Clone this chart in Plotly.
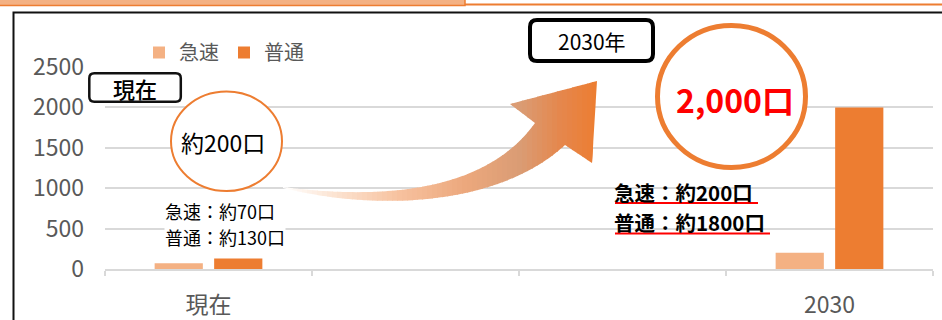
import numpy as np
import plotly.graph_objects as go

# ---------------- data ----------------
categories = ["現在", "2030"]
axis_categories = ["現在", " ", "  ", "2030"]
series_names = ["急速", "普通"]
rapid_values = [70, 200]
normal_values = [130, 2000]
y_ticks = [0, 500, 1000, 1500, 2000, 2500]
colors = ["#F4B183", "#ED7D31"]

label_now = "現在"
label_2030 = "2030年"
now_total = "約200口"
now_lines = ["急速：約70口", "普通：約130口"]
future_total = "2,000口"
future_lines = ["急速：約200口", "普通：約1800口"]

# ---------------- geometry helpers (pixel -> paper) ----------------
W, H = 942, 320
ML, MR, MT, MB = 105, 9, 67, 51
PW = W - ML - MR
PH = H - MT - MB
FONT = "Noto Sans CJK JP"


def px(x):
    return (x - ML) / PW


def py(y):
    return (H - MB - y) / PH


def rrect_path(x0, y0, x1, y1, r):
    return (f"M{px(x0+r)},{py(y0)} L{px(x1-r)},{py(y0)} Q{px(x1)},{py(y0)} {px(x1)},{py(y0+r)} "
            f"L{px(x1)},{py(y1-r)} Q{px(x1)},{py(y1)} {px(x1-r)},{py(y1)} "
            f"L{px(x0+r)},{py(y1)} Q{px(x0)},{py(y1)} {px(x0)},{py(y1-r)} "
            f"L{px(x0)},{py(y0+r)} Q{px(x0)},{py(y0)} {px(x0+r)},{py(y0)} Z")


def bez(p0, p1, p2, p3, n=50):
    t = np.linspace(0, 1, n)[:, None]
    p0, p1, p2, p3 = map(np.array, (p0, p1, p2, p3))
    return (1 - t) ** 3 * p0 + 3 * (1 - t) ** 2 * t * p1 + 3 * (1 - t) * t ** 2 * p2 + t ** 3 * p3


def clip_edge(pts, inside, intersect):
    out = []
    n = len(pts)
    for i in range(n):
        cur, prev = pts[i], pts[i - 1]
        if inside(cur):
            if not inside(prev):
                out.append(intersect(prev, cur))
            out.append(cur)
        elif inside(prev):
            out.append(intersect(prev, cur))
    return out


def ix(xc):
    def f(a, b):
        t = (xc - a[0]) / (b[0] - a[0])
        return (xc, a[1] + t * (b[1] - a[1]))
    return f


def clip_slab(poly, xmin, xmax):
    pts = clip_edge(poly, lambda p: p[0] >= xmin, ix(xmin))
    if not pts:
        return pts
    return clip_edge(pts, lambda p: p[0] <= xmax, ix(xmax))


def lerp_color(x, stops):
    if x <= stops[0][0]:
        c = stops[0][1]
    elif x >= stops[-1][0]:
        c = stops[-1][1]
    else:
        for (xa, ca), (xb, cb) in zip(stops[:-1], stops[1:]):
            if xa <= x <= xb:
                t = (x - xa) / (xb - xa)
                c = tuple(ca[k] + t * (cb[k] - ca[k]) for k in range(3))
                break
    return "rgb(%d,%d,%d)" % tuple(int(round(v)) for v in c)


# ---------------- figure ----------------
fig = go.Figure()
for name, vals, col in zip(series_names, [rapid_values, normal_values], colors):
    fig.add_bar(name=name, x=categories, y=vals, marker_color=col, marker_line_width=0)

shapes = []
# top decoration
shapes.append(dict(type="rect", xref="paper", yref="paper", x0=px(-3), x1=px(465), y0=py(-3), y1=py(5.5),
                   fillcolor="#F4B183", line=dict(color="#ED7D31", width=1.5), layer="above"))
shapes.append(dict(type="line", xref="paper", yref="paper", x0=px(465), x1=px(945), y0=py(4.5), y1=py(4.5),
                   line=dict(color="#ED7D31", width=2.2), layer="above"))
# frame
shapes.append(dict(type="rect", xref="paper", yref="paper", x0=px(13.5), x1=px(960), y0=py(12.5), y1=py(340),
                   line=dict(color="#111111", width=2), layer="above"))

# gradient arrow
upper = bez((283, 187), (360, 197), (480, 200), (535, 123))
lower = bez((283, 188), (380, 212), (500, 205), (565, 145))
poly = [tuple(p) for p in upper] + [(510, 104), (597, 81), (592, 163)] + [tuple(p) for p in lower[::-1]]
stops = [(283, (255, 255, 255)), (330, (252, 230, 214)), (400, (247, 193, 158)),
         (465, (236, 168, 125)), (520, (218, 156, 116)), (560, (229, 135, 77)), (597, (237, 125, 49))]
step = 5.0
xs = np.arange(282, 600, step)
for xa in xs:
    piece = clip_slab(poly, xa, xa + step + 0.8)
    if len(piece) < 3:
        continue
    path = "M" + " L".join(f"{px(p[0])},{py(p[1])}" for p in piece) + " Z"
    shapes.append(dict(type="path", xref="paper", yref="paper", path=path,
                       fillcolor=lerp_color(xa + step / 2, stops), line=dict(width=0), layer="above"))

# boxes
shapes.append(dict(type="path", xref="paper", yref="paper", path=rrect_path(89.3, 73.3, 180.8, 101.8, 5),
                   fillcolor="white", line=dict(color="#111111", width=2.5), layer="above"))
shapes.append(dict(type="path", xref="paper", yref="paper", path=rrect_path(530, 20, 653, 61, 7),
                   fillcolor="white", line=dict(color="#000000", width=4), layer="above"))
# circles
shapes.append(dict(type="circle", xref="paper", yref="paper", x0=px(171), x1=px(282), y0=py(91.5), y1=py(191),
                   fillcolor="white", line=dict(color="#ED7D31", width=2), layer="above"))
shapes.append(dict(type="circle", xref="paper", yref="paper", x0=px(657.5), x1=px(805.5), y0=py(25.5), y1=py(167.5),
                   fillcolor="white", line=dict(color="#ED7D31", width=5), layer="above"))
# red underlines
shapes.append(dict(type="line", xref="paper", yref="paper", x0=px(615), x1=px(758), y0=py(203), y1=py(203),
                   line=dict(color="#FF0000", width=1.8), layer="above"))
shapes.append(dict(type="line", xref="paper", yref="paper", x0=px(615), x1=px(770), y0=py(233.5), y1=py(233.5),
                   line=dict(color="#FF0000", width=1.8), layer="above"))


def ann(x, y, text, size, color="#000000", weight="normal", xanchor="center", bg=None):
    d = dict(xref="paper", yref="paper", x=px(x), y=py(y), text=text, showarrow=False,
             xanchor=xanchor, yanchor="middle",
             font=dict(family=FONT, size=size, color=color, weight=weight), borderpad=0)
    if bg:
        d["bgcolor"] = bg
    return d


annotations = [
    ann(135, 88, label_now, 22, weight=500),
    ann(591.5, 41, label_2030, 21),
    ann(223, 142, now_total, 23),
    ann(164, 210.5, now_lines[0], 18, xanchor="left", bg="white"),
    ann(164, 237, now_lines[1], 18, xanchor="left", bg="white"),
    ann(735, 99, future_total, 32, color="#FF0000", weight="bold"),
    ann(613, 191.5, future_lines[0], 20.5, weight="bold", xanchor="left"),
    ann(613, 222, future_lines[1], 20.5, weight="bold", xanchor="left"),
]

fig.update_layout(
    width=W, height=H,
    margin=dict(l=ML, r=MR, t=MT, b=MB, pad=0, autoexpand=False),
    barmode="group", bargap=0.425, bargroupgap=0.19,
    plot_bgcolor="white", paper_bgcolor="white",
    font=dict(family=FONT, color="#595959"),
    showlegend=True,
    legend=dict(orientation="h", x=px(139), y=py(52.5), xanchor="left", yanchor="middle",
                font=dict(family=FONT, size=20, color="#595959"), bgcolor="rgba(0,0,0,0)",
                traceorder="normal"),
    xaxis=dict(type="category", categoryorder="array", categoryarray=axis_categories,
               range=[-0.5, 3.5], tickson="boundaries", ticks="outside", ticklen=5,
               tickcolor="#D9D9D9", tickwidth=1.5, showline=True, linecolor="#D9D9D9",
               linewidth=1.5, showgrid=False, tickfont=dict(family=FONT, size=23, color="#595959"),
               ticklabelstandoff=15, automargin=False, fixedrange=True),
    yaxis=dict(range=[0, 2500], tickvals=y_ticks, showgrid=True, gridcolor="#D9D9D9",
               gridwidth=1.5, zeroline=False, showline=False, ticks="",
               tickfont=dict(family=FONT, size=23, color="#595959"), ticklabelstandoff=20,
               automargin=False, fixedrange=True),
    shapes=shapes,
    annotations=annotations,
)

fig.write_html("out.html", config={"displayModeBar": False})
